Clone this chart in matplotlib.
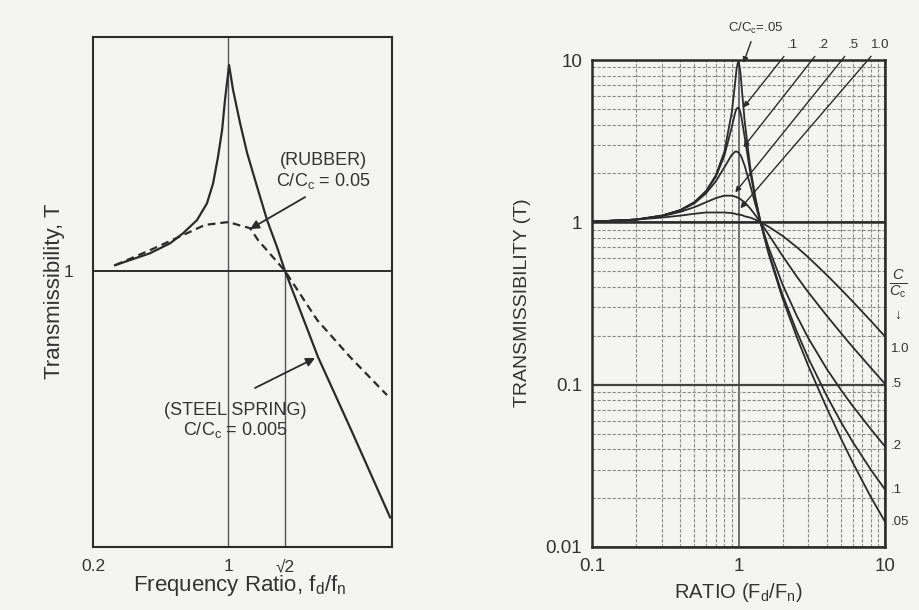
import numpy as np
import matplotlib
matplotlib.use('Agg')
import matplotlib.pyplot as plt
import matplotlib.transforms as mtransforms

plt.rcParams['font.family'] = ['Liberation Sans', 'DejaVu Sans']
plt.rcParams['mathtext.fontset'] = 'custom'
plt.rcParams['mathtext.rm'] = 'Liberation Sans'
plt.rcParams['mathtext.it'] = 'Liberation Sans:italic'

ink = '#2b2b2b'
paper = '#f4f4f3'

# --- left sketch: steel spring vs rubber ---
steel_ratio = [0.308, 0.50, 0.62, 0.701, 0.791, 0.857, 0.898, 0.931, 0.959, 0.979, 1.007,
               1.035, 1.084, 1.134, 1.206, 1.279, 1.353, 1.413, 1.667, 1.932, 2.257]
steel_T = [1.05, 1.16, 1.26, 1.37, 1.53, 1.76, 2.08, 2.59, 3.24, 4.17, 5.58,
           4.53, 3.44, 2.68, 2.02, 1.53, 1.22, 1.0, 0.488, 0.266, 0.128]

rubber_ratio = [0.308, 0.50, 0.701, 0.844, 1.0, 1.155, 1.213, 1.413, 1.66, 1.924, 2.231]
rubber_T = [1.05, 1.19, 1.35, 1.47, 1.505, 1.43, 1.295, 1.0, 0.665, 0.488, 0.355]

# --- right chart: transmissibility vs ratio for several damping ratios ---
ratio = [0.1, 0.2, 0.3, 0.4, 0.5, 0.6, 0.7, 0.8, 0.9, 0.95, 0.97, 1.0, 1.03, 1.05,
         1.1, 1.2, 1.3, 1.414, 1.6, 2.0, 2.5, 3, 4, 5, 6, 8, 10]
damping_labels = ['.05', '.1', '.2', '.5', '1.0']
t_05 = [1.01, 1.04, 1.10, 1.19, 1.33, 1.56, 1.95, 2.72, 4.78, 7.38, 8.85, 10.05, 8.40, 6.85,
        4.24, 2.21, 1.44, 1.0, 0.646, 0.339, 0.196, 0.130, 0.0718, 0.0466, 0.0333, 0.0203, 0.0143]
t_10 = [1.01, 1.04, 1.10, 1.19, 1.33, 1.55, 1.91, 2.57, 3.88, 4.77, 5.02, 5.10, 4.75, 4.37,
        3.37, 2.05, 1.40, 1.0, 0.659, 0.356, 0.212, 0.145, 0.0853, 0.0589, 0.0446, 0.0299, 0.0226]
t_20 = [1.01, 1.04, 1.10, 1.18, 1.31, 1.51, 1.79, 2.18, 2.61, 2.73, 2.73, 2.69, 2.60, 2.51,
        2.24, 1.70, 1.30, 1.0, 0.704, 0.413, 0.265, 0.193, 0.125, 0.0929, 0.0741, 0.0532, 0.0416]
t_50 = [1.01, 1.04, 1.09, 1.16, 1.24, 1.33, 1.41, 1.46, 1.46, 1.44, 1.43, 1.41, 1.39, 1.37,
        1.33, 1.22, 1.11, 1.0, 0.844, 0.620, 0.463, 0.370, 0.266, 0.208, 0.171, 0.127, 0.101]
t_100 = [1.01, 1.04, 1.07, 1.10, 1.13, 1.15, 1.15, 1.15, 1.14, 1.13, 1.12, 1.12, 1.11, 1.11,
         1.09, 1.07, 1.04, 1.0, 0.942, 0.825, 0.703, 0.608, 0.474, 0.387, 0.326, 0.247, 0.198]
curves = [t_05, t_10, t_20, t_50, t_100]

# where the leader lines at the top point to (ratio, T) and where their labels sit
leader_tips = [(1.08, 9.6), (1.08, 5.1), (1.08, 2.9), (0.95, 1.53), (1.03, 1.22)]
leader_text = [(1.31, 15.6), (2.34, 12.3), (3.8, 12.3), (6.1, 12.3), (9.3, 12.3)]

fig = plt.figure(figsize=(9.2, 6.1), dpi=100, facecolor=paper)

# ---------------- left panel ----------------
ax1 = fig.add_axes([0.1011, 0.1033, 0.325, 0.836], facecolor=paper)
ax1.set_xscale('function', functions=(lambda x: np.sign(x) * np.abs(x) ** 0.75,
                                       lambda u: np.sign(u) * np.abs(u) ** (4 / 3)))
ax1.set_yscale('log')
ax1.set_xlim(0.2, 2.273)
ax1.set_ylim(0.1, 7.05)

ax1.axvline(1.0, color='#555555', lw=1.0)
ax1.axhline(1.0, color=ink, lw=1.4)
ax1.vlines(np.sqrt(2), 0.1, 1.0, color='#555555', lw=1.0)

ax1.plot(steel_ratio, steel_T, color=ink, lw=1.6)
ax1.plot(rubber_ratio, rubber_T, color=ink, lw=1.6, ls=(0, (3.5, 2.2)))

ax1.set_xticks([0.2, 1.0, np.sqrt(2)])
ax1.set_xticklabels(['0.2', '1', '\u221a2'])
ax1.set_yticks([1.0])
ax1.set_yticklabels(['1'])
ax1.yaxis.set_minor_locator(matplotlib.ticker.NullLocator())
ax1.xaxis.set_minor_locator(matplotlib.ticker.NullLocator())
ax1.tick_params(length=0, labelsize=12.5, colors='#333333')
ax1.tick_params(axis='x', pad=9)
ax1.tick_params(axis='y', pad=14)
for s in ax1.spines.values():
    s.set_color(ink)
    s.set_linewidth(1.5)

ax1.text(1.707, 2.3, '(RUBBER)\nC/C$_\\mathrm{c}$ = 0.05', ha='center', va='center',
         fontsize=13, color='#333333', linespacing=1.1)
ax1.annotate('', xy=(1.155, 1.42), xytext=(1.566, 1.854),
             arrowprops=dict(arrowstyle='-|>', color=ink, lw=1.3, mutation_scale=13,
                             shrinkA=0, shrinkB=0))
ax1.text(1.049, 0.286, '(STEEL SPRING)\nC/C$_\\mathrm{c}$ = 0.005', ha='center', va='center',
         fontsize=13, color='#333333', linespacing=1.1)
ax1.annotate('', xy=(1.644, 0.484), xytext=(1.191, 0.377),
             arrowprops=dict(arrowstyle='-|>', color=ink, lw=1.3, mutation_scale=13,
                             shrinkA=0, shrinkB=0))

fig.text(55 / 920, 1 - 291 / 610, 'Transmissibility, T', rotation=90, ha='center',
         va='center', fontsize=16, color='#333333')
fig.text(240 / 920, 1 - 586 / 610, 'Frequency Ratio, f$_\\mathrm{d}$/f$_\\mathrm{n}$',
         ha='center', va='center', fontsize=16, color='#333333')

# ---------------- right panel ----------------
ax2 = fig.add_axes([0.6435, 0.1033, 0.3185, 0.7983], facecolor=paper)
ax2.set_xscale('log')
ax2.set_yscale('log')
ax2.set_xlim(0.1, 10)
ax2.set_ylim(0.01, 10)

ax2.grid(which='minor', color='#8a8a8a', lw=0.8, ls=(0, (3, 1.5)))
ax2.grid(which='major', color='#4a4a4a', lw=1.1)
ax2.axhline(1.0, color=ink, lw=1.8)
ax2.axhline(0.1, color='#444444', lw=1.6)

for t in curves:
    ax2.plot(ratio, t, color=ink, lw=1.3)

for lab, tip, pos in zip(damping_labels, leader_tips, leader_text):
    txt = 'C/C$_\\mathrm{c}$=' + lab if lab == '.05' else lab
    ax2.annotate(txt, xy=tip, xytext=pos, ha='center', va='center', fontsize=9.5,
                 color='#333333', annotation_clip=False,
                 arrowprops=dict(arrowstyle='-|>', color=ink, lw=1.0, mutation_scale=8,
                                 shrinkA=2, shrinkB=0))

trans = mtransforms.blended_transform_factory(ax2.transAxes, ax2.transData)
for lab, t in zip(damping_labels, curves):
    off = -9 if lab == '1.0' else 0
    ax2.annotate(lab, xy=(1.0, t[-1]), xycoords=trans, xytext=(4, off),
                 textcoords='offset points', ha='left', va='center', fontsize=9.5,
                 color='#333333', annotation_clip=False)
ax2.text(1.015, 0.42, r'$\frac{C}{C_\mathrm{c}}$', transform=trans, ha='left', va='center',
         fontsize=15, color='#333333')
ax2.text(1.03, 0.27, '\u2193', transform=trans, ha='left', va='center', fontsize=10,
         color='#333333')

ax2.set_xticks([0.1, 1, 10])
ax2.set_xticklabels(['0.1', '1', '10'])
ax2.set_yticks([0.01, 0.1, 1, 10])
ax2.set_yticklabels(['0.01', '0.1', '1', '10'])
ax2.tick_params(which='both', length=0, labelsize=13.5, colors='#333333')
ax2.tick_params(axis='x', pad=8)
ax2.tick_params(axis='y', pad=7)
for s in ax2.spines.values():
    s.set_color(ink)
    s.set_linewidth(1.8)

fig.text(523 / 920, 1 - 303 / 610, 'TRANSMISSIBILITY (T)', rotation=90, ha='center',
         va='center', fontsize=14, color='#333333')
fig.text(738 / 920, 1 - 592 / 610, 'RATIO (F$_\\mathrm{d}$/F$_\\mathrm{n}$)', ha='center',
         va='center', fontsize=14.5, color='#333333')

fig.savefig('out.png', dpi=100, facecolor=paper)
